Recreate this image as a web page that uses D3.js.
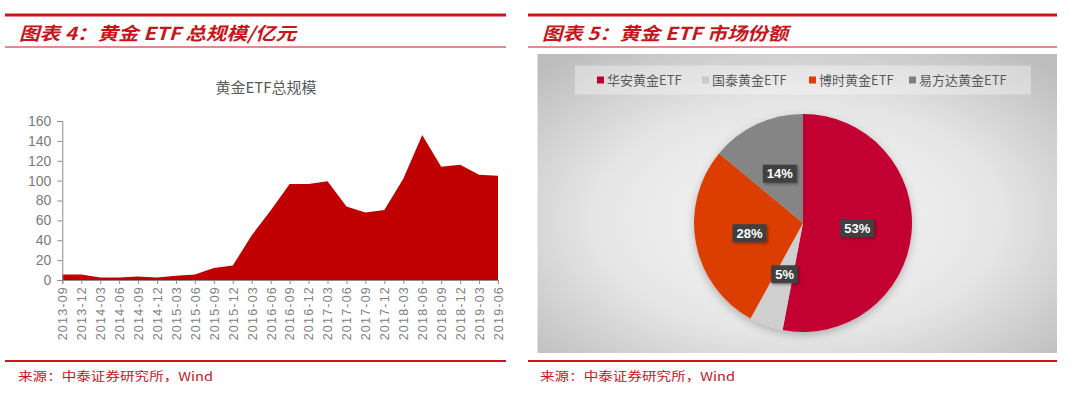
<!DOCTYPE html>
<html>
<head>
<meta charset="utf-8">
<script src="https://cdn.jsdelivr.net/npm/d3@7/dist/d3.min.js"></script>
<style>
  html, body { margin: 0; padding: 0; background: #ffffff; }
  svg { display: block; }
</style>
</head>
<body>
<svg id="chart" width="1080" height="393"></svg>
<script>
// ---------- Data ----------
const quarters = ["2013-09","2013-12","2014-03","2014-06","2014-09","2014-12","2015-03","2015-06","2015-09","2015-12","2016-03","2016-06","2016-09","2016-12","2017-03","2017-06","2017-09","2017-12","2018-03","2018-06","2018-09","2018-12","2019-03","2019-06"];
const etfScale = [5.6, 5.6, 2.4, 2.4, 3.6, 2.6, 4.3, 5.5, 12, 14.5, 45, 70, 96.5, 96.5, 99.3, 74, 68, 70.5, 102, 146, 114, 116, 106, 105];
const yTicks = [0, 20, 40, 60, 80, 100, 120, 140, 160];

const funds = ["华安黄金ETF", "国泰黄金ETF", "博时黄金ETF", "易方达黄金ETF"];
const shares = [53, 5, 28, 14];
const fundColors = ["#c20030", "#cfcfcf", "#dc3d02", "#858585"];
const legendColors = ["#c20030", "#c9c9c9", "#dc3d02", "#7f7f7f"];

const leftTitle = "图表 4：黄金 ETF 总规模/亿元";
const rightTitle = "图表 5：黄金 ETF 市场份额";
const chartTitle = "黄金ETF总规模";
const source = "来源：中泰证券研究所，Wind";

const RED = "#c8161d";
const svg = d3.select("#chart");
const defs = svg.append("defs");

// ---------- Headers / footers ----------
function header(x0, x1, title, tlen) {
  svg.append("rect").attr("x", x0).attr("y", 13.5).attr("width", x1 - x0).attr("height", 3).attr("fill", RED);
  svg.append("rect").attr("x", x0).attr("y", 46.5).attr("width", x1 - x0).attr("height", 1).attr("fill", RED);
  svg.append("text").attr("x", x0 + 14).attr("y", 40)
    .attr("fill", RED)
    .attr("font-family", "'Noto Sans CJK SC', sans-serif")
    .attr("font-weight", "bold").attr("font-style", "italic")
    .attr("font-size", 18)
    .attr("textLength", tlen).attr("lengthAdjust", "spacingAndGlyphs")
    .text(title);
}
function footer(x0, x1, tx) {
  svg.append("rect").attr("x", x0).attr("y", 360).attr("width", x1 - x0).attr("height", 2).attr("fill", RED);
  svg.append("text").attr("x", tx).attr("y", 381)
    .attr("fill", RED)
    .attr("font-family", "'Noto Sans CJK SC', sans-serif")
    .attr("font-size", 12)
    .attr("textLength", 195).attr("lengthAdjust", "spacingAndGlyphs")
    .text(source);
}
header(5, 506, leftTitle, 277);
header(528, 1057, rightTitle, 246);
svg.select("text:last-of-type");
footer(5, 506, 18);
footer(528, 1057, 540);

// ---------- Left: area chart ----------
const x = d3.scalePoint().domain(quarters).range([62.3, 498]);
const y = d3.scaleLinear().domain([0, 160]).range([280, 121]);

svg.append("text").attr("x", 266).attr("y", 93)
  .attr("text-anchor", "middle")
  .attr("fill", "#595959")
  .attr("font-family", "'Noto Sans CJK SC', sans-serif")
  .attr("font-size", 15)
  .text(chartTitle);

const area = d3.area()
  .x((d, i) => x(quarters[i]))
  .y0(y(0))
  .y1(d => y(d));
svg.append("path").datum(etfScale).attr("d", area).attr("fill", "#c00000");

const yAxis = svg.append("g").attr("transform", `translate(${x.range()[0]},0)`)
  .call(d3.axisLeft(y).tickValues(yTicks).tickSize(5).tickPadding(6));
yAxis.select(".domain").attr("stroke", "#8c8c8c");
yAxis.selectAll(".tick line").attr("stroke", "#8c8c8c");
yAxis.selectAll("text").attr("fill", "#7a7a7a")
  .attr("font-family", "'Liberation Sans', Arial, sans-serif").attr("font-size", 14);

const xAxis = svg.append("g").attr("transform", `translate(0,${y(0)})`)
  .call(d3.axisBottom(x).tickSize(4).tickPadding(4));
xAxis.select(".domain").attr("stroke", "#8c8c8c");
xAxis.selectAll(".tick line").attr("stroke", "#8c8c8c");
xAxis.selectAll("text")
  .attr("fill", "#808080")
  .attr("font-family", "'Liberation Sans', Arial, sans-serif")
  .attr("font-size", 12.5)
  .attr("letter-spacing", "1.2px")
  .attr("text-anchor", "end")
  .attr("dy", "0.35em")
  .attr("transform", "translate(0,6) rotate(-90)")
  .attr("x", 0).attr("y", 0);

// ---------- Right: pie panel ----------
const grad = defs.append("radialGradient").attr("id", "bg")
  .attr("cx", "50%").attr("cy", "55%").attr("r", "70%");
grad.append("stop").attr("offset", "0%").attr("stop-color", "#f7f7f7");
grad.append("stop").attr("offset", "55%").attr("stop-color", "#e6e6e6");
grad.append("stop").attr("offset", "100%").attr("stop-color", "#bdbdbd");

const shadow = defs.append("filter").attr("id", "shadow")
  .attr("x", "-20%").attr("y", "-20%").attr("width", "140%").attr("height", "140%");
shadow.append("feDropShadow").attr("dx", 0).attr("dy", 3).attr("stdDeviation", 4)
  .attr("flood-color", "#000").attr("flood-opacity", 0.25);
const lblShadow = defs.append("filter").attr("id", "lblshadow")
  .attr("x", "-30%").attr("y", "-30%").attr("width", "160%").attr("height", "160%");
lblShadow.append("feDropShadow").attr("dx", 1.5).attr("dy", 1.5).attr("stdDeviation", 1)
  .attr("flood-color", "#000").attr("flood-opacity", 0.35);

svg.append("rect").attr("x", 537.5).attr("y", 54).attr("width", 519.5).attr("height", 299)
  .attr("fill", "url(#bg)");

// legend
svg.append("rect").attr("x", 575).attr("y", 65.5).attr("width", 456).attr("height", 29)
  .attr("fill", "#ffffff").attr("opacity", 0.35);
const legendX = d3.scaleOrdinal().domain(funds).range([597, 702, 809, 909]);
const lg = svg.append("g");
funds.forEach((f, i) => {
  lg.append("rect").attr("x", legendX(f)).attr("y", 76.5).attr("width", 7).attr("height", 7)
    .attr("fill", legendColors[i]);
  lg.append("text").attr("x", legendX(f) + 10).attr("y", 85)
    .attr("fill", "#595959")
    .attr("font-family", "'Noto Sans CJK SC', sans-serif")
    .attr("font-size", 13)
    .text(f);
});

const cx = 803, cy = 223, R = 109;
const pie = d3.pie().sort(null).value(d => d)(shares);
const arc = d3.arc().innerRadius(0).outerRadius(R);
const labelArc = d3.arc().innerRadius(R * 0.5).outerRadius(R * 0.5);
const pg = svg.append("g").attr("transform", `translate(${cx},${cy})`);
pg.append("g").attr("filter", "url(#shadow)")
  .selectAll("path").data(pie).join("path")
  .attr("d", arc)
  .attr("fill", (d, i) => fundColors[i]);

const lab = pg.selectAll("g.lbl").data(pie).join("g").attr("class", "lbl")
  .attr("transform", d => {
    const [a, b] = labelArc.centroid(d);
    return `translate(${a},${b})`;
  });
lab.each(function(d) {
  const g = d3.select(this);
  const t = g.append("text")
    .attr("text-anchor", "middle").attr("dy", "0.36em")
    .attr("fill", "#ffffff")
    .attr("font-family", "'Liberation Sans', Arial, sans-serif")
    .attr("font-weight", "bold").attr("font-size", 13)
    .text(d.data + "%");
  const w = t.node().getComputedTextLength() + 8;
  g.insert("rect", "text").attr("x", -w / 2).attr("y", -9).attr("width", w).attr("height", 18)
    .attr("fill", "#404040").attr("filter", "url(#lblshadow)");
});
</script>
</body>
</html>
